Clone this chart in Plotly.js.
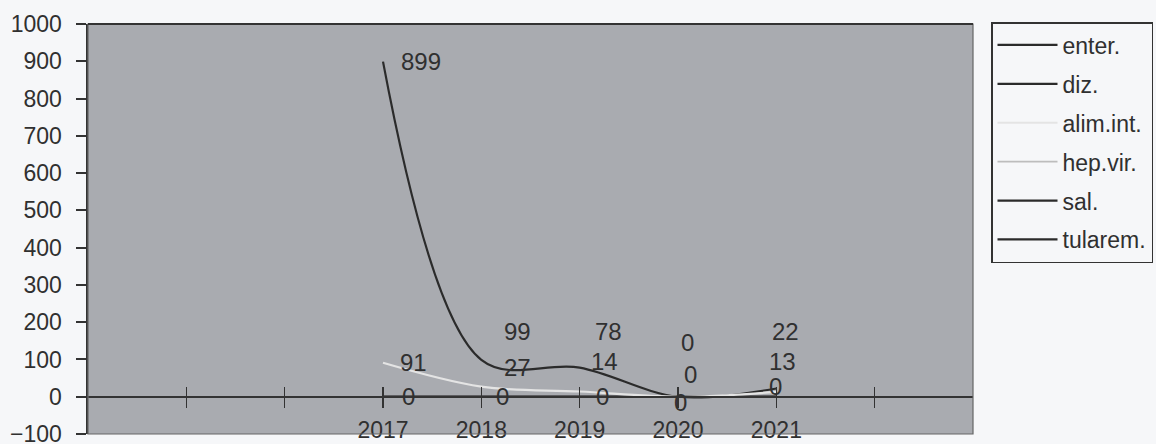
<!DOCTYPE html>
<html>
<head>
<meta charset="utf-8">
<script src="https://cdn.plot.ly/plotly-3.0.1.min.js"></script>
<style>
  html, body { margin: 0; padding: 0; background: #f6f7f9; }
  #chart { width: 1156px; height: 444px; }
</style>
</head>
<body>
<div id="chart"></div>
<script>
// ---- data ----
const years = [2017, 2018, 2019, 2020, 2021];
const yearLabels = ['2017', '2018', '2019', '2020', '2021'];
const seriesNames = ['enter.', 'diz.', 'alim.int.', 'hep.vir.', 'sal.', 'tularem.'];
const enter = [899, 99, 78, 0, 22];
const diz = [0, 0, 0, 0, 0];
const alimInt = [91, 27, 14, 0, 13];
const hepVir = [0, 0, 0, 0, 0];
const sal = [0, 0, 0, 0, 0];
const tularem = [0, 0, 0, 0, 0];
const yTickVals = [-100, 0, 100, 200, 300, 400, 500, 600, 700, 800, 900, 1000];
const xSlotTicks = [2015, 2016, 2017, 2018, 2019, 2020, 2021, 2022];

// ---- styles ----
const seriesValues = [enter, diz, alimInt, hepVir, sal, tularem];
const lineStyles = [
  { color: '#2b2b2b', width: 2.2 },
  { color: '#2b2b2b', width: 2.2 },
  { color: '#e4e4e4', width: 2.2 },
  { color: '#bdbdbd', width: 1.6 },
  { color: '#2b2b2b', width: 2.2 },
  { color: '#2b2b2b', width: 2.2 }
];
// each trace sits on one of three overlaid x axes sharing the same range
const traceAxis = ['x', 'x2', 'x3', 'x', 'x', 'x'];
// per-point label offsets (px) for the series whose labels are visible
const labelOffsets = {
  0: { dx: [38, 36, 29, 9, 9], dy: [0, 28, 36, 54, 57] },
  2: { dx: [30, 36, 25, 12, 6], dy: [0, 19, 30, 22, 30] },
  1: { dx: [25, 21, 23, 2, -1], dy: [0, 0, 0, -6, 10] }
};
const FONT = 'Liberation Sans, Arial, sans-serif';
const TXT = '#303030';

const traces = seriesNames.map((name, i) => ({
  type: 'scatter',
  mode: 'lines',
  name: name,
  x: years,
  y: seriesValues[i],
  xaxis: traceAxis[i],
  yaxis: 'y',
  legendgroup: 'g' + i,
  line: Object.assign({ shape: 'spline', smoothing: 1 }, lineStyles[i]),
  hoverinfo: 'x+y+name'
}));

const annotations = [];
Object.keys(labelOffsets).forEach(k => {
  const idx = +k;
  const off = labelOffsets[k];
  seriesValues[idx].forEach((v, j) => {
    annotations.push({
      x: years[j], y: v, xref: 'x', yref: 'y',
      text: String(v), showarrow: false,
      xanchor: 'center', yanchor: 'middle',
      xshift: off.dx[j], yshift: off.dy[j],
      font: { family: FONT, size: 24, color: TXT }
    });
  });
});

const xRange = [2014, 2023];

const layout = {
  width: 1156, height: 444,
  margin: { l: 88, r: 183, t: 24, b: 10, autoexpand: false },
  paper_bgcolor: '#f6f7f9',
  plot_bgcolor: '#a9abb0',
  showlegend: true,
  font: { family: FONT, size: 23, color: TXT },
  xaxis: {
    range: xRange, anchor: 'free', position: 100 / 1100, side: 'bottom',
    showline: true, linecolor: '#333', linewidth: 2.5,
    ticks: 'outside', ticklen: 10, tickwidth: 1.6, tickcolor: '#333',
    tickmode: 'array', tickvals: xSlotTicks,
    showticklabels: false, showgrid: false, zeroline: false
  },
  xaxis2: {
    range: xRange, overlaying: 'x', anchor: 'free', position: 100 / 1100, side: 'top',
    showline: false,
    ticks: 'outside', ticklen: 10, tickwidth: 1.6, tickcolor: '#333',
    tickmode: 'array', tickvals: xSlotTicks,
    showticklabels: false, showgrid: false, zeroline: false
  },
  xaxis3: {
    range: xRange, overlaying: 'x', anchor: 'y', side: 'bottom',
    showline: false, ticks: '',
    tickmode: 'array', tickvals: years, ticktext: yearLabels,
    ticklabelstandoff: -20,
    ticklabeloverflow: 'allow',
    tickfont: { family: FONT, size: 23, color: TXT },
    showgrid: false, zeroline: false
  },
  yaxis: {
    range: [-100, 1000],
    tickmode: 'array', tickvals: yTickVals,
    ticks: 'outside', ticklen: 10, tickwidth: 2, tickcolor: '#333',
    showline: true, linecolor: '#333', linewidth: 2.5,
    showgrid: false, zeroline: false,
    ticklabelstandoff: 9,
    ticklabeloverflow: 'allow',
    tickfont: { family: FONT, size: 23, color: TXT }
  },
  legend: {
    x: (991 - 88) / 885, xanchor: 'left',
    y: (434 - 22) / 410, yanchor: 'top',
    bgcolor: '#f6f7f9', bordercolor: '#333', borderwidth: 1.5,
    font: { family: FONT, size: 23, color: TXT },
    tracegroupgap: 6,
    itemwidth: 60,
    maxheight: 1
  },
  shapes: [
    { type: 'rect', xref: 'paper', yref: 'paper', x0: 0, x1: 1, y0: 0, y1: 1,
      line: { color: '#666', width: 1.2 }, layer: 'above' },
    { type: 'line', xref: 'paper', yref: 'paper', x0: 0, x1: 1, y0: 1, y1: 1,
      line: { color: '#333', width: 2 }, layer: 'above' }
  ],
  annotations: annotations
};

Plotly.newPlot('chart', traces, layout, { displayModeBar: false, staticPlot: true });
</script>
</body>
</html>
